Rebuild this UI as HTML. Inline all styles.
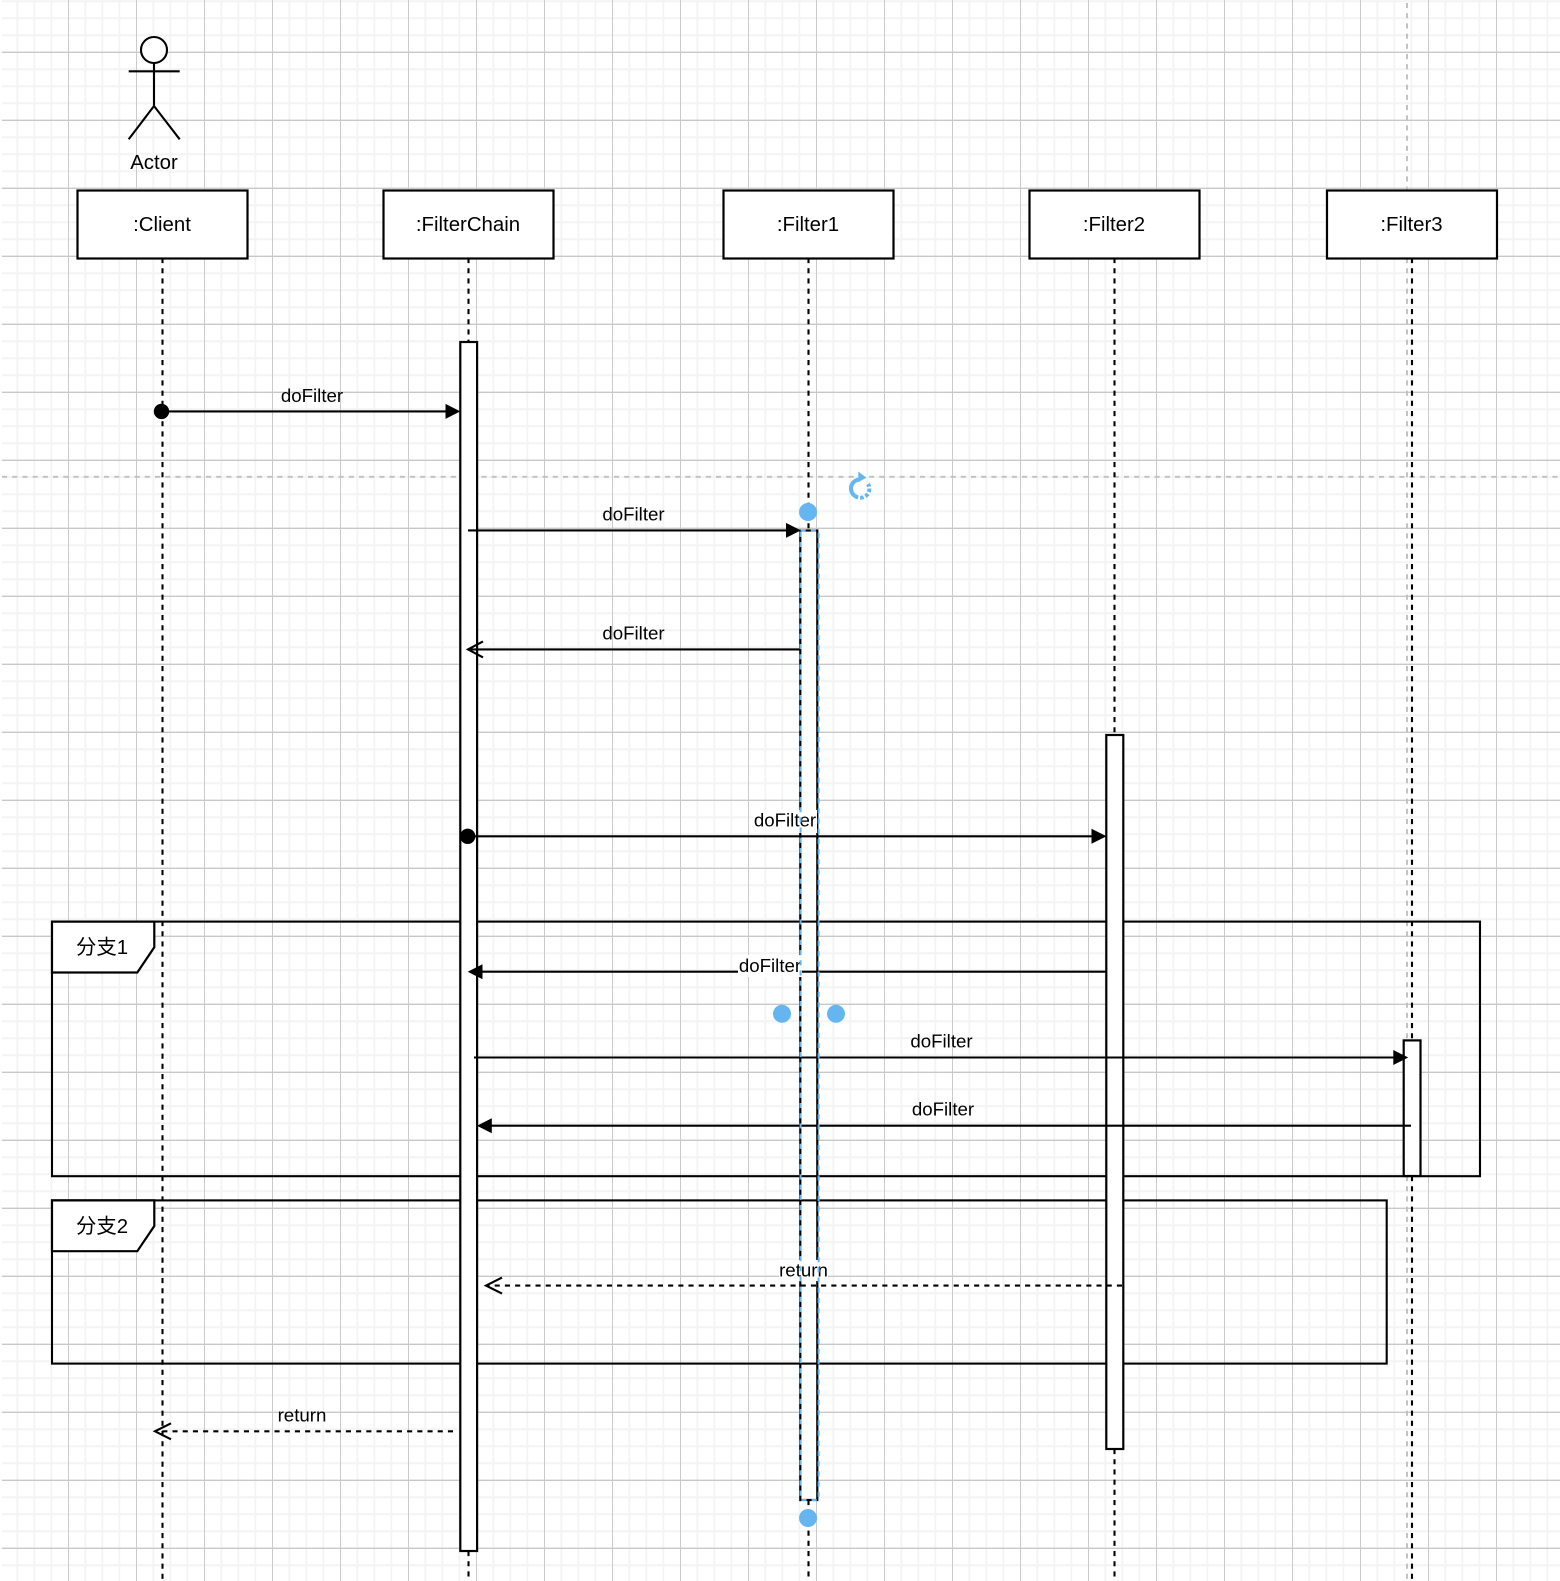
<!DOCTYPE html>
<html><head><meta charset="utf-8">
<style>html,body{margin:0;padding:0;background:#fff;width:1560px;height:1581px;overflow:hidden}svg{display:block}
text{font-family:"Liberation Sans","Noto Sans CJK SC",sans-serif;fill:#000;text-anchor:middle;dominant-baseline:central}
.l{font-size:18.7px}.b{font-size:20.4px}
.s{fill:none;stroke:#000;stroke-width:2.1}
.d{fill:none;stroke:#000;stroke-width:2.1;stroke-dasharray:5.1 5.1}
.w{fill:#fff;stroke:#000;stroke-width:2.2}
.f{fill:#000;stroke:none}
.h{fill:#64b5f0}
</style></head><body>
<svg width="1560" height="1581" viewBox="0 0 1560 1581" xmlns="http://www.w3.org/2000/svg">
<defs>
<pattern id="gv" x="0" y="0" width="68" height="68" patternUnits="userSpaceOnUse">
<path d="M17.3 0V68M34.3 0V68M51.3 0V68" stroke="#f4f4f4" stroke-width="2" fill="none"/>
</pattern>
<pattern id="gh" x="0" y="0" width="68" height="68" patternUnits="userSpaceOnUse">
<path d="M0 1.3H68M0 18.3H68M0 35.3H68" stroke="#f4f4f4" stroke-width="2" fill="none"/>
</pattern>
<pattern id="gmv" x="0" y="0" width="68" height="68" patternUnits="userSpaceOnUse">
<path d="M0.3 0V68" stroke="#c8c8c8" stroke-width="1.3" fill="none"/>
</pattern>
<pattern id="gmh" x="0" y="0" width="68" height="68" patternUnits="userSpaceOnUse">
<path d="M0 52.3H68" stroke="#c8c8c8" stroke-width="1.3" fill="none"/>
</pattern>
</defs>
<rect x="2" y="0" width="1558" height="1581" fill="url(#gv)"/>
<rect x="2" y="0" width="1558" height="1581" fill="url(#gh)"/>
<rect x="2" y="0" width="1558" height="1581" fill="url(#gmv)"/>
<rect x="2" y="0" width="1558" height="1581" fill="url(#gmh)"/>

<!-- guides -->
<path d="M1407 3V1581" fill="none" stroke="#c0c0c0" stroke-width="1.9" stroke-dasharray="5.1 5.1"/>
<path d="M2 476.8H1560" fill="none" stroke="#c0c0c0" stroke-width="1.9" stroke-dasharray="5.1 5.1"/>

<!-- actor -->
<circle cx="154" cy="50" r="13" fill="#fff" stroke="#000" stroke-width="2.1"/>
<path class="s" d="M154 63V106M128.7 71.3H179.7M154 106L128.7 139.3M154 106L179.7 139.3"/>
<text x="154" y="163" class="b">Actor</text>

<!-- lifelines -->
<path class="d" d="M162.5 258V1581"/>
<path class="d" d="M468.5 258V342M468.5 1551V1581"/>
<path class="d" d="M808.5 258V530M808.5 1500V1581"/>
<path class="d" d="M1114.5 258V735M1114.5 1449V1581"/>
<path class="d" d="M1412 258V1040M1412 1176V1581"/>

<!-- boxes -->
<rect class="w" x="77.5" y="190.5" width="170" height="68"/><text x="162" y="225" class="b">:Client</text>
<rect class="w" x="383.5" y="190.5" width="170" height="68"/><text x="468" y="225" class="b">:FilterChain</text>
<rect class="w" x="723.5" y="190.5" width="170" height="68"/><text x="808" y="225" class="b">:Filter1</text>
<rect class="w" x="1029.5" y="190.5" width="170" height="68"/><text x="1114" y="225" class="b">:Filter2</text>
<rect class="w" x="1327" y="190.5" width="170" height="68"/><text x="1411.5" y="225" class="b">:Filter3</text>

<!-- filter1 activation -->
<rect class="w" x="800.3" y="530.5" width="17" height="969.5"/>

<!-- frames -->
<rect class="s" x="52" y="921.6" width="1428" height="254.6"/>
<path class="w" d="M52 921.6H154.3V947.3L137.3 972.5H52Z"/>
<text x="102" y="948" class="b">分支1</text>
<rect class="s" x="52" y="1200.4" width="1334.7" height="163.2"/>
<path class="w" d="M52 1200.4H154.3V1226L137.3 1251.2H52Z"/>
<text x="102" y="1227" class="b">分支2</text>

<!-- activations -->
<rect class="w" x="460.3" y="342" width="16.8" height="1209"/>
<rect class="w" x="1106.3" y="735" width="17" height="714"/>
<rect class="w" x="1403.7" y="1040.4" width="16.8" height="135.6"/>

<!-- messages -->
<path class="s" d="M162 411.4H446"/><circle class="f" cx="161.5" cy="411.4" r="7.7"/><path class="f" d="M460.3 411.4L445.5 403.9V418.9Z"/>
<text x="312" y="395.5" class="l">doFilter</text>

<path class="s" d="M468 530.4H787"/><path class="f" d="M800.8 530.4L786 522.9V537.9Z"/>
<text x="633.5" y="514" class="l">doFilter</text>

<path class="s" d="M800 649.4H468M483 641.4L468 649.4L483 657.4"/>
<text x="633.5" y="633" class="l">doFilter</text>

<path class="s" d="M468 836.3H1092"/><circle class="f" cx="467.7" cy="836.3" r="7.7"/><path class="f" d="M1106.5 836.3L1091.5 828.8V843.8Z"/>
<rect x="753" y="810" width="64" height="23" fill="#fff"/>
<text x="785" y="820" class="l">doFilter</text>

<path class="s" d="M1106 971.7H482"/><path class="f" d="M467.7 971.7L482.5 964.2V979.2Z"/>
<rect x="738" y="955" width="64" height="22" fill="#fff"/>
<text x="770" y="965.5" class="l">doFilter</text>

<path class="s" d="M474 1057.5H1394"/><path class="f" d="M1408.3 1057.5L1393.3 1050V1065Z"/>
<text x="941.5" y="1041" class="l">doFilter</text>

<path class="s" d="M1411 1125.7H491"/><path class="f" d="M477 1125.7L491.8 1118.2V1133.2Z"/>
<text x="943" y="1109" class="l">doFilter</text>

<path class="d" d="M1122 1285.6H486"/><path class="s" d="M502 1277.6L486 1285.6L502 1293.6"/>
<rect x="779" y="1260" width="49" height="21" fill="#fff"/>
<text x="803.5" y="1270" class="l">return</text>

<path class="d" d="M453 1431.3H156"/><path class="s" d="M171 1423.3L155 1431.3L171 1439.3"/>
<text x="302" y="1415" class="l">return</text>

<!-- selection -->
<rect x="800.6" y="530.5" width="18" height="969.5" fill="none" stroke="#64b5f0" stroke-width="2" stroke-dasharray="5.1 5.1"/>
<circle class="h" cx="808" cy="512" r="9"/>
<circle class="h" cx="782" cy="1013.8" r="9"/>
<circle class="h" cx="836" cy="1013.8" r="9"/>
<circle class="h" cx="808" cy="1518" r="9"/>
<path d="M860 479.5A9 9 0 0 0 855 496" fill="none" stroke="#64b5f0" stroke-width="4"/>
<path d="M855 496A9 9 0 0 0 868 484" fill="none" stroke="#64b5f0" stroke-width="4" stroke-dasharray="3.5 2"/>
<path class="h" d="M858.3 471.5L866.5 477.7L858.3 482Z"/>
</svg>
</body></html>
